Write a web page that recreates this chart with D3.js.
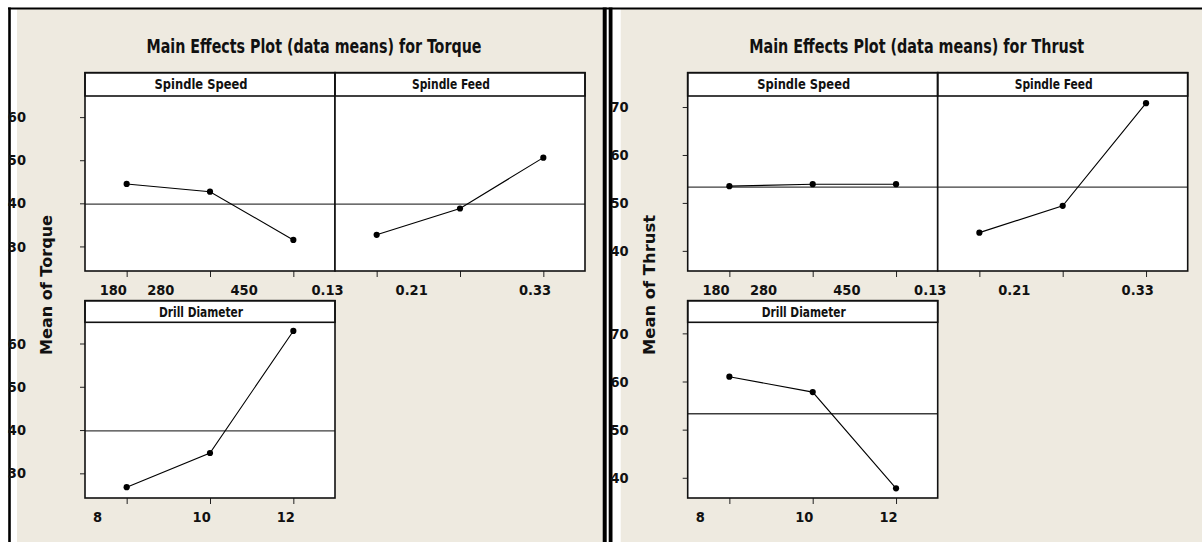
<!DOCTYPE html>
<html>
<head>
<meta charset="utf-8">
<script src="https://cdn.jsdelivr.net/npm/d3@7"></script>
<style>
  body { margin: 0; background: #fff; }
  text { font-family: "DejaVu Sans", sans-serif; font-stretch: condensed; font-weight: bold; fill: #111; }
</style>
</head>
<body>
<svg id="chart" width="1202" height="542"></svg>
<script>
// factor names and level labels
const factors = ["Spindle Speed", "Spindle Feed", "Drill Diameter"];
const topTickLabels = ["180", "280", "450", "0.13", "0.21", "0.33"];
const drillTickLabels = ["8", "10", "12"];

// means
const torqueSpeed = [44.5, 42.7, 31.5];
const torqueFeed = [32.7, 38.8, 50.6];
const torqueDrill = [26.8, 34.7, 62.9];
const torqueMean = 39.8;
const torqueTicks = [30, 40, 50, 60];

const thrustSpeed = [53.5, 53.9, 53.9];
const thrustFeed = [43.8, 49.4, 70.8];
const thrustDrill = [61.0, 57.8, 37.8];
const thrustMean = 53.3;
const thrustTicks = [40, 50, 60, 70];

// where minitab put the (shifted) level labels, in level units
const topLabelSlots = [0.84, 1.41, 2.41, 3.41, 4.42, 5.9];
const drillLabelSlots = [0.65, 1.9, 2.91];
const stripWidths = [93, 78, 84];

const svg = d3.select("#chart");
const beige = "#eeeae0";

// frame
svg.append("rect").attr("x", 17).attr("y", 9).attr("width", 585.7).attr("height", 533).attr("fill", beige);
svg.append("rect").attr("x", 620.7).attr("y", 9).attr("width", 582).attr("height", 533).attr("fill", beige);
svg.append("rect").attr("x", 8).attr("y", 7.5).attr("width", 1194).attr("height", 2).attr("fill", "#000");
svg.append("rect").attr("x", 8.2).attr("y", 7.5).attr("width", 2.6).attr("height", 535).attr("fill", "#000");
svg.append("rect").attr("x", 602.7).attr("y", 7.5).attr("width", 4).attr("height", 535).attr("fill", "#000");
svg.append("rect").attr("x", 608.7).attr("y", 7.5).attr("width", 3.8).attr("height", 535).attr("fill", "#000");

const charts = [
  {
    ox: 0,
    title: "Main Effects Plot (data means) for Torque",
    ylab: "Mean of Torque",
    series: [torqueSpeed, torqueFeed, torqueDrill],
    mean: torqueMean,
    ticks: torqueTicks,
    ydom: [24.3, 64.9],
  },
  {
    ox: 602.7,
    title: "Main Effects Plot (data means) for Thrust",
    ylab: "Mean of Thrust",
    series: [thrustSpeed, thrustFeed, thrustDrill],
    mean: thrustMean,
    ticks: thrustTicks,
    ydom: [35.8, 72.3],
  },
];

const L = 85;
const W = 250;
const rows = [
  { top: 72.7, stripB: 96, bot: 271 },
  { top: 300.7, stripB: 322.3, bot: 498 },
];
const panels = [
  { col: 0, row: 0, f: 0 },
  { col: 1, row: 0, f: 1 },
  { col: 0, row: 1, f: 2 },
];

const drawChart = (c) => {
  const g = svg.append("g").attr("transform", `translate(${c.ox},0)`);

  panels.forEach((p) => {
    const r = rows[p.row];
    const x0 = L + p.col * W;
    const x = d3.scaleLinear().domain([0.5, 3.5]).range([x0, x0 + W]);
    const y = d3.scaleLinear().domain(c.ydom).range([r.bot, r.stripB]);
    const vals = c.series[p.f];

    g.append("rect")
      .attr("x", x0).attr("y", r.top)
      .attr("width", W).attr("height", r.bot - r.top)
      .attr("fill", "#fff");

    // x ticks
    const xa = g.append("g")
      .attr("transform", `translate(0,${r.bot})`)
      .call(d3.axisBottom(x).tickValues([1, 2, 3]).tickSize(6).tickFormat(""));
    xa.select(".domain").remove();
    xa.selectAll("line").attr("stroke", "#222");

    if (p.col === 0) {
      const ya = g.append("g")
        .attr("transform", `translate(${x0},0)`)
        .call(d3.axisLeft(y).tickValues(c.ticks).tickSize(5).tickPadding(54));
      ya.select(".domain").remove();
      ya.selectAll("line").attr("stroke", "#222");
      ya.selectAll("text")
        .attr("font-size", 14.5)
        .attr("font-family", null)
        .style("fill", "#111");
    }

    // reference line at the grand mean
    g.append("line")
      .attr("x1", x0).attr("x2", x0 + W)
      .attr("y1", y(c.mean)).attr("y2", y(c.mean))
      .attr("stroke", "#3c3c3c").attr("stroke-width", 1.3);

    g.append("path")
      .datum(vals)
      .attr("fill", "none")
      .attr("stroke", "#000")
      .attr("stroke-width", 1.1)
      .attr("d", d3.line().x((d, i) => x(i + 1)).y((d) => y(d)));

    g.selectAll(null)
      .data(vals)
      .enter()
      .append("circle")
      .attr("cx", (d, i) => x(i + 1))
      .attr("cy", (d) => y(d))
      .attr("r", 3.1)
      .attr("fill", "#000");

    // strip + border
    g.append("rect")
      .attr("x", x0).attr("y", r.top)
      .attr("width", W).attr("height", r.stripB - r.top)
      .attr("fill", "none").attr("stroke", "#111").attr("stroke-width", 1.6);
    g.append("rect")
      .attr("x", x0).attr("y", r.top)
      .attr("width", W).attr("height", r.bot - r.top)
      .attr("fill", "none").attr("stroke", "#111").attr("stroke-width", 1.6);

    g.append("text")
      .attr("x", x0 + W / 2 - 9)
      .attr("y", r.top + 16.6)
      .attr("text-anchor", "middle")
      .attr("font-size", 13.5)
      .attr("textLength", stripWidths[p.f])
      .attr("lengthAdjust", "spacingAndGlyphs")
      .text(factors[p.f]);
  });

  // level labels, top row spans both panels
  const xt = d3.scaleLinear().domain([0.5, 6.5]).range([L, L + 2 * W]);
  g.selectAll(null)
    .data(topTickLabels)
    .enter()
    .append("text")
    .attr("x", (d, i) => xt(topLabelSlots[i]))
    .attr("y", rows[0].bot + 24)
    .attr("text-anchor", "middle")
    .attr("font-size", 14.5)
    .text((d) => d);

  const xb = d3.scaleLinear().domain([0.5, 3.5]).range([L, L + W]);
  g.selectAll(null)
    .data(drillTickLabels)
    .enter()
    .append("text")
    .attr("x", (d, i) => xb(drillLabelSlots[i]))
    .attr("y", rows[1].bot + 24)
    .attr("text-anchor", "middle")
    .attr("font-size", 14.5)
    .text((d) => d);

  g.append("text")
    .attr("x", L + 229)
    .attr("y", 53.3)
    .attr("text-anchor", "middle")
    .attr("font-size", 19)
    .attr("textLength", 335)
    .attr("lengthAdjust", "spacingAndGlyphs")
    .text(c.title);

  g.append("text")
    .attr("transform", `translate(${L - 33},285) rotate(-90)`)
    .attr("text-anchor", "middle")
    .attr("font-size", 15)
    .attr("textLength", 140)
    .attr("lengthAdjust", "spacingAndGlyphs")
    .style("font-stretch", "normal")
    .text(c.ylab);
};

charts.forEach(drawChart);
</script>
</body>
</html>
